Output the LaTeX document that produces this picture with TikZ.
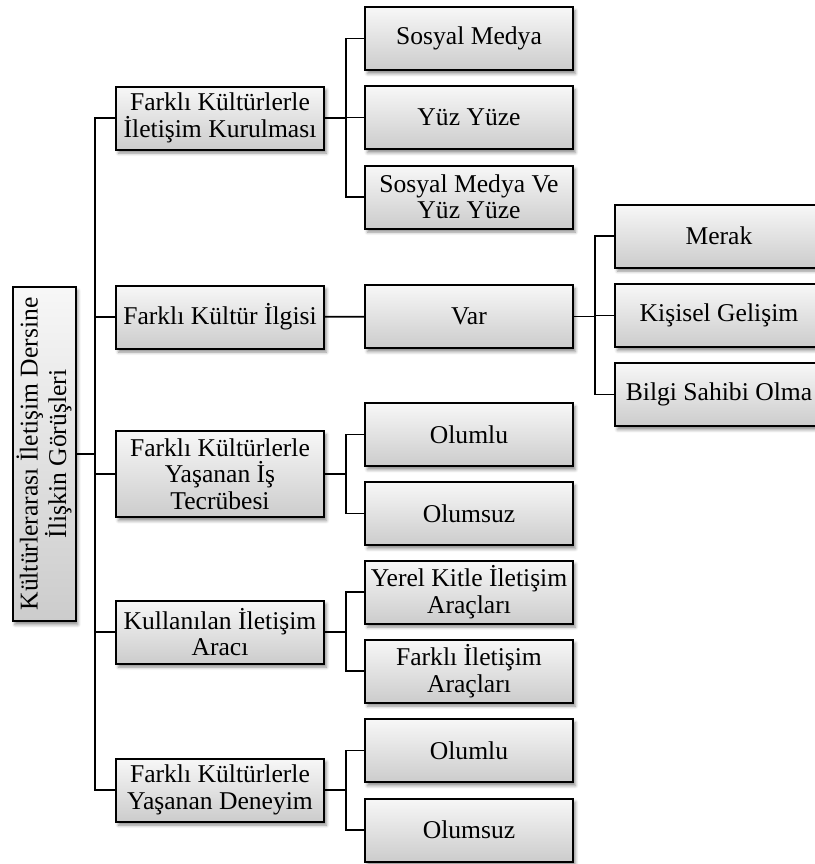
\documentclass[tikz,border=0pt]{standalone}
\usepackage{fontspec}
\setmainfont{Liberation Serif}
\usetikzlibrary{shadows.blur}
\tikzset{
  box/.style={rectangle, draw, line width=1pt, minimum width=104pt, minimum height=31.5pt,
    inner sep=1pt, align=center, top color=gray!6, bottom color=gray!40,
    blur shadow={shadow xshift=1.2pt, shadow yshift=-1.8pt, shadow blur radius=1.5pt, shadow opacity=45},
    font=\fontsize{12.8pt}{13.2pt}\selectfont},
  rootbox/.style={box, rotate=90, minimum width=167pt, minimum height=31.5pt,
    top color=gray!6, bottom color=gray!40},
  link/.style={line width=0.9pt}
}
\begin{document}
\begin{tikzpicture}[x=0.5pt, y=0.5pt]
      \useasboundingbox (0,0) rectangle (815,-864);
      \clip (0,0) rectangle (815,-864);

      % Nodes
      \node[rootbox] at (44, -454) (root) {Kültürlerarası İletişim Dersine\\İlişkin Görüşleri};

      \node[box] at (220, -118) (a) {Farklı Kültürlerle\\İletişim Kurulması};
      \node[box] at (220, -317) (b) {Farklı Kültür İlgisi};
      \node[box, minimum height=43pt] at (220, -474) (c) {Farklı Kültürlerle\\Yaşanan İş\\Tecrübesi};
      \node[box] at (220, -632) (d) {Kullanılan İletişim\\Aracı};
      \node[box] at (220, -790) (e) {Farklı Kültürlerle\\Yaşanan Deneyim};

      \node[box] at (469, -38.5) (a1) {Sosyal Medya};
      \node[box] at (469, -117.5) (a2) {Yüz Yüze};
      \node[box] at (469, -197) (a3) {Sosyal Medya Ve\\Yüz Yüze};
      \node[box] at (469, -316.5) (b1) {Var};
      \node[box] at (469, -434.5) (c1) {Olumlu};
      \node[box] at (469, -513.5) (c2) {Olumsuz};
      \node[box] at (469, -592) (d1) {Yerel Kitle İletişim\\Araçları};
      \node[box] at (469, -671) (d2) {Farklı İletişim\\Araçları};
      \node[box] at (469, -750.5) (e1) {Olumlu};
      \node[box] at (469, -830) (e2) {Olumsuz};

      \node[box] at (719, -236) (b11) {Merak};
      \node[box] at (719, -315.5) (b12) {Kişisel Gelişim};
      \node[box] at (719, -394.5) (b13) {Bilgi Sahibi Olma};

      % Connectors
      \coordinate (trunk) at (95, -454);
      \draw[link] (root.south |- trunk) -- (trunk);
      \foreach \n in {a,b,c,d,e}
        \draw[link] (trunk) |- (\n.west);

      \foreach \p/\c in {a/a1,a/a2,a/a3,c/c1,c/c2,d/d1,d/d2,e/e1,e/e2,b1/b11,b1/b12,b1/b13}
        \draw[link] (\p.east) -- ++(21,0) |- (\c.west);
      \draw[link] (b) -- (b1);
\end{tikzpicture}
\end{document}
